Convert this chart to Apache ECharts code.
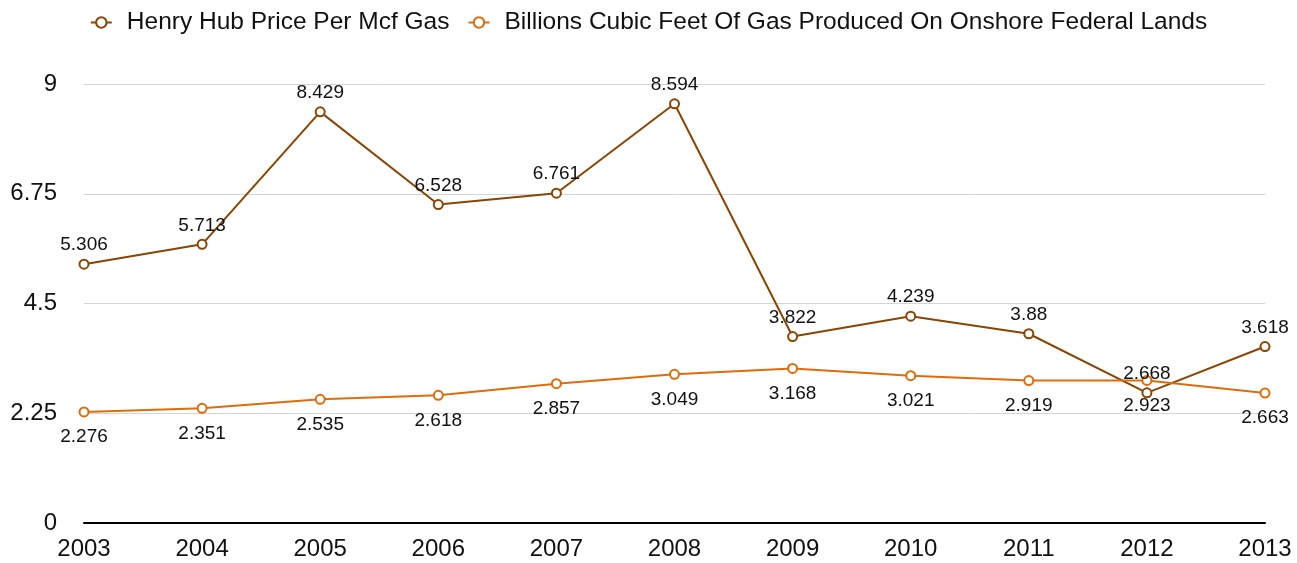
<!DOCTYPE html>
<html>
<head>
<meta charset="utf-8">
<script src="https://cdn.jsdelivr.net/npm/echarts@6/dist/echarts.min.js"></script>
<style>
html,body{margin:0;padding:0;background:#fff;}
#chart{width:1297px;height:563px;}
</style>
</head>
<body>
<div id="chart"></div>
<script>
const categories = ['2003','2004','2005','2006','2007','2008','2009','2010','2011','2012','2013'];
const henryHub = [5.306, 5.713, 8.429, 6.528, 6.761, 8.594, 3.822, 4.239, 3.88, 2.668, 3.618];
const gasProduced = [2.276, 2.351, 2.535, 2.618, 2.857, 3.049, 3.168, 3.021, 2.919, 2.923, 2.663];
const seriesNames = ['Henry Hub Price Per Mcf Gas', 'Billions Cubic Feet Of Gas Produced On Onshore Federal Lands'];
const yTicks = [0, 2.25, 4.5, 6.75, 9];

const font = 'Helvetica, "Liberation Sans", Arial, sans-serif';
const chart = echarts.init(document.getElementById('chart'));
chart.setOption({
  animation: false,
  backgroundColor: '#fff',
  textStyle: { fontFamily: font },
  legend: {
    top: 5,
    left: 'center',
    itemWidth: 21,
    itemHeight: 13,
    itemGap: 18,
    textStyle: { fontSize: 24.5, color: '#111', fontFamily: font, padding: [0, 0, 0, 10] }
  },
  grid: { left: 84, right: 32, top: 84, bottom: 40, containLabel: false },
  xAxis: {
    type: 'category',
    data: categories,
    boundaryGap: false,
    axisLine: { lineStyle: { color: '#000', width: 2 } },
    axisTick: { show: false },
    axisLabel: { fontSize: 24, color: '#111', margin: 14, fontFamily: font }
  },
  yAxis: {
    type: 'value',
    min: yTicks[0],
    max: yTicks[yTicks.length - 1],
    interval: 2.25,
    axisLine: { show: false },
    axisTick: { show: false },
    splitLine: { lineStyle: { color: '#d4d4d4', width: 1 } },
    axisLabel: { fontSize: 24, color: '#111', margin: 27, fontFamily: font }
  },
  series: [
    {
      name: seriesNames[0],
      type: 'line',
      data: henryHub,
      color: '#8a4503',
      symbol: 'emptyCircle',
      symbolSize: 9,
      lineStyle: { width: 2 },
      itemStyle: { borderWidth: 2 },
      label: { show: true, position: 'top', distance: 4, fontSize: 19, color: '#111', fontFamily: font }
    },
    {
      name: seriesNames[1],
      type: 'line',
      data: gasProduced,
      color: '#df6c0b',
      symbol: 'emptyCircle',
      symbolSize: 9,
      lineStyle: { width: 2 },
      itemStyle: { borderWidth: 2 },
      label: { show: true, position: 'bottom', distance: 10, fontSize: 19, color: '#111', fontFamily: font }
    }
  ]
});
</script>
</body>
</html>
